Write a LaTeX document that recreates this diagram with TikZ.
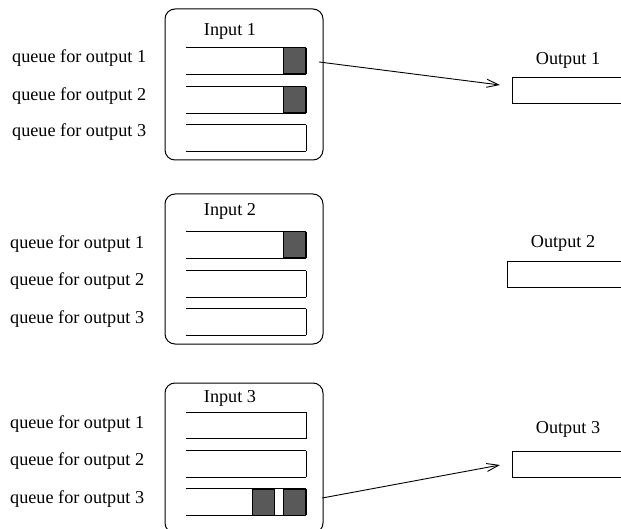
\documentclass[tikz,border=0pt]{standalone}
\usepackage{fontspec}
\setmainfont{Liberation Serif}
\usepackage{xcolor}
\usepackage{tikz}
\usetikzlibrary{positioning, arrows.meta}

\definecolor{cellgray}{gray}{0.35}

\tikzset{
  inbox/.style={rectangle, draw=black, line width=1pt, rounded corners=10pt, minimum width=158pt},
  queue/.style={rectangle, minimum width=120pt, minimum height=26pt, inner sep=0pt,
    append after command={(\tikzlastnode.north west) edge[line width=1pt] (\tikzlastnode.north east)
      (\tikzlastnode.north east) edge[line width=1pt] (\tikzlastnode.south east)
      (\tikzlastnode.south east) edge[line width=1pt] (\tikzlastnode.south west)}},
  cell/.style={rectangle, draw=black, line width=1pt, fill=cellgray, minimum width=22pt, minimum height=26pt, inner sep=0pt, anchor=east},
  outbox/.style={rectangle, draw=black, line width=1pt, minimum width=130pt, minimum height=26pt, anchor=west},
  qlabel/.style={anchor=west, inner sep=0pt},
  arr/.style={-{Straight Barb[length=12pt, width=8pt]}, line width=0.9pt}
}

\begin{document}
\begin{tikzpicture}[x=1pt, y=-1pt, font=\fontsize{18.2}{21}\selectfont]
\useasboundingbox (0,0) rectangle (621,529);

% Input 1
\node[inbox, minimum height=151pt] (in1) at (244,84.5) {};
\node (tin1) at (230,31) {Input 1};
\node[queue] (q11) at (246,61) {};
\node[queue] (q12) at (246,100) {};
\node[queue] (q13) at (246,138) {};
\node[cell] (c11) at (q11.east) {};
\node[cell] (c12) at (q12.east) {};
\node[qlabel] (l11) at (12,58) {queue for output 1};
\node[qlabel] (l12) at (12,96) {queue for output 2};
\node[qlabel] (l13) at (12,132) {queue for output 3};

% Input 2
\node[inbox, minimum height=150pt] (in2) at (244,269) {};
\node (tin2) at (230,211) {Input 2};
\node[queue] (q21) at (246,245) {};
\node[queue] (q22) at (246,284) {};
\node[queue] (q23) at (246,322) {};
\node[cell] (c21) at (q21.east) {};
\node[qlabel] (l21) at (10,244) {queue for output 1};
\node[qlabel] (l22) at (10,281) {queue for output 2};
\node[qlabel] (l23) at (10,319) {queue for output 3};

% Input 3
\node[inbox, minimum height=150pt] (in3) at (244,458) {};
\node (tin3) at (230,398) {Input 3};
\node[queue] (q31) at (246,425.5) {};
\node[queue] (q32) at (246,464) {};
\node[queue] (q33) at (246,502) {};
\node[cell] (c33b) at (q33.east) {};
\node[cell] (c33a) at ([xshift=-8pt]c33b.west) {};
\node[qlabel] (l31) at (10,424) {queue for output 1};
\node[qlabel] (l32) at (10,461) {queue for output 2};
\node[qlabel] (l33) at (10,499) {queue for output 3};

% Outputs
\node[outbox] (out1) at (512,90.5) {};
\node (tout1) at (568,60) {Output 1};
\node[outbox] (out2) at (507,275) {};
\node (tout2) at (563,243) {Output 2};
\node[outbox] (out3) at (512,464) {};
\node (tout3) at (568,429) {Output 3};

% Connections
\draw[arr] ([xshift=13pt, yshift=-1pt]c11.east) -- ([xshift=-12pt, yshift=5.5pt]out1.west);
\draw[arr] ([xshift=16pt, yshift=4pt]c33b.east) -- ([xshift=-12pt, yshift=-1pt]out3.west);

\end{tikzpicture}
\end{document}
